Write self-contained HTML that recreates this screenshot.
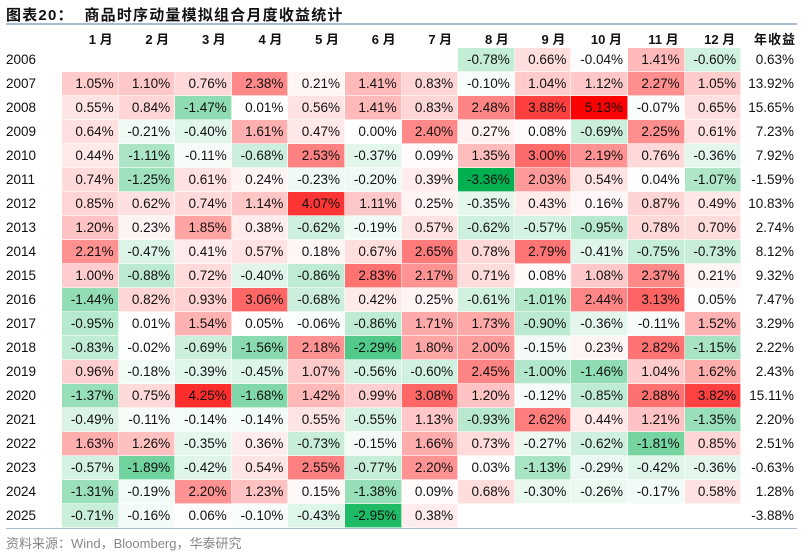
<!DOCTYPE html>
<html><head><meta charset="utf-8">
<style>
body{margin:0;width:802px;height:554px;background:#fff;position:relative;overflow:hidden;font-family:"Liberation Sans","Noto Sans CJK SC",sans-serif;}
.a{position:absolute;}
.cell{position:absolute;box-sizing:border-box;border-right:1px solid rgba(255,255,255,0.6);border-bottom:1px solid rgba(255,255,255,0.6);font-size:13.5px;color:#111;text-align:right;padding-right:4px;line-height:24px;height:24px;}
.hdr{position:absolute;font-size:13px;font-weight:bold;color:#111;text-align:right;line-height:22px;}
.yr{position:absolute;left:6px;font-size:13.5px;color:#111;line-height:24px;}
</style></head><body>
<div class="a" style="left:6px;top:4px;font-size:15px;font-weight:bold;color:#111;letter-spacing:1.2px;font-family:'Liberation Sans','Noto Sans CJK SC',sans-serif;">图表20：&nbsp;&nbsp;商品时序动量模拟组合月度收益统计</div>
<div class="a" style="left:6px;top:23px;width:791px;height:2px;background:#a9bcd4;"></div>
<div id="tbl"></div>
<div class="a" style="left:6px;top:528px;width:791px;height:1px;background:#a9bcd4;"></div>
<div class="a" style="left:6px;top:533px;font-size:13px;color:#888;">资料来源：Wind，Bloomberg，华泰研究</div>
<script>
const months=["1 月","2 月","3 月","4 月","5 月","6 月","7 月","8 月","9 月","10 月","11 月","12 月"];
const years=[2006,2007,2008,2009,2010,2011,2012,2013,2014,2015,2016,2017,2018,2019,2020,2021,2022,2023,2024,2025];
const N=null;
const monthly=[
[N,N,N,N,N,N,N,-0.78,0.66,-0.04,1.41,-0.60],
[1.05,1.10,0.76,2.38,0.21,1.41,0.83,-0.10,1.04,1.12,2.27,1.05],
[0.55,0.84,-1.47,0.01,0.56,1.41,0.83,2.48,3.88,5.13,-0.07,0.65],
[0.64,-0.21,-0.40,1.61,0.47,0.00,2.40,0.27,0.08,-0.69,2.25,0.61],
[0.44,-1.11,-0.11,-0.68,2.53,-0.37,0.09,1.35,3.00,2.19,0.76,-0.36],
[0.74,-1.25,0.61,0.24,-0.23,-0.20,0.39,-3.36,2.03,0.54,0.04,-1.07],
[0.85,0.62,0.74,1.14,4.07,1.11,0.25,-0.35,0.43,0.16,0.87,0.49],
[1.20,0.23,1.85,0.38,-0.62,-0.19,0.57,-0.62,-0.57,-0.95,0.78,0.70],
[2.21,-0.47,0.41,0.57,0.18,0.67,2.65,0.78,2.79,-0.41,-0.75,-0.73],
[1.00,-0.88,0.72,-0.40,-0.86,2.83,2.17,0.71,0.08,1.08,2.37,0.21],
[-1.44,0.82,0.93,3.06,-0.68,0.42,0.25,-0.61,-1.01,2.44,3.13,0.05],
[-0.95,0.01,1.54,0.05,-0.06,-0.86,1.71,1.73,-0.90,-0.36,-0.11,1.52],
[-0.83,-0.02,-0.69,-1.56,2.18,-2.29,1.80,2.00,-0.15,0.23,2.82,-1.15],
[0.96,-0.18,-0.39,-0.45,1.07,-0.56,-0.60,2.45,-1.00,-1.46,1.04,1.62],
[-1.37,0.75,4.25,-1.68,1.42,0.99,3.08,1.20,-0.12,-0.85,2.88,3.82],
[-0.49,-0.11,-0.14,-0.14,0.55,-0.55,1.13,-0.93,2.62,0.44,1.21,-1.35],
[1.63,1.26,-0.35,0.36,-0.73,-0.15,1.66,0.73,-0.27,-0.62,-1.81,0.85],
[-0.57,-1.89,-0.42,0.54,2.55,-0.77,2.20,0.03,-1.13,-0.29,-0.42,-0.36],
[-1.31,-0.19,2.20,1.23,0.15,-1.38,0.09,0.68,-0.30,-0.26,-0.17,0.58],
[-0.71,-0.16,0.06,-0.10,-0.43,-2.95,0.38,N,N,N,N,N]];
const annual=[0.63,13.92,15.65,7.23,7.92,-1.59,10.83,2.74,8.12,9.32,7.47,3.29,2.22,2.43,15.11,2.20,2.51,-0.63,1.28,-3.88];

const X0=62,CW=56.6,Y0=48,RH=24;
const colX=i=>X0+i*CW, rowY=j=>Y0+j*RH;
let mx=0,mn=0;
monthly.forEach(r=>r.forEach(v=>{if(v!==null){mx=Math.max(mx,v);mn=Math.min(mn,v);}}));
function color(v){
  if(v>=0){const t=v/mx;return `rgb(255,${Math.round(255*(1-t))},${Math.round(255*(1-t))})`;}
  const t=v/mn;return `rgb(${Math.round(255*(1-t))},${Math.round(255-79*t)},${Math.round(255-175*t)})`;
}
const tbl=document.getElementById('tbl');
months.forEach((m,i)=>{
  const h=document.createElement('div');h.className='hdr';
  
  
  h.style.left=colX(i)+'px';h.style.width=(CW-6)+'px';h.style.top='29px';h.textContent=m;tbl.appendChild(h);
});
const ah=document.createElement('div');ah.className='hdr';


ah.style.left='736px';ah.style.width='60px';ah.style.top='29px';ah.style.letterSpacing='1px';ah.textContent='年收益';tbl.appendChild(ah);
years.forEach((y,j)=>{
  const l=document.createElement('div');l.className='yr';
  
  
  l.style.top=rowY(j)+'px';l.textContent=y;tbl.appendChild(l);
  monthly[j].forEach((v,i)=>{
    if(v===null)return;
    const c=document.createElement('div');c.className='cell';
    
    
    c.style.left=colX(i)+'px';c.style.top=rowY(j)+'px';c.style.width=CW+'px';
    c.style.background=color(v);c.textContent=v.toFixed(2)+'%';tbl.appendChild(c);
  });
  const a=document.createElement('div');a.className='cell';
  
  
  a.style.left='736px';a.style.top=rowY(j)+'px';a.style.width='62px';a.style.border='none';
  a.textContent=annual[j].toFixed(2)+'%';tbl.appendChild(a);
});
</script>
</body></html>
